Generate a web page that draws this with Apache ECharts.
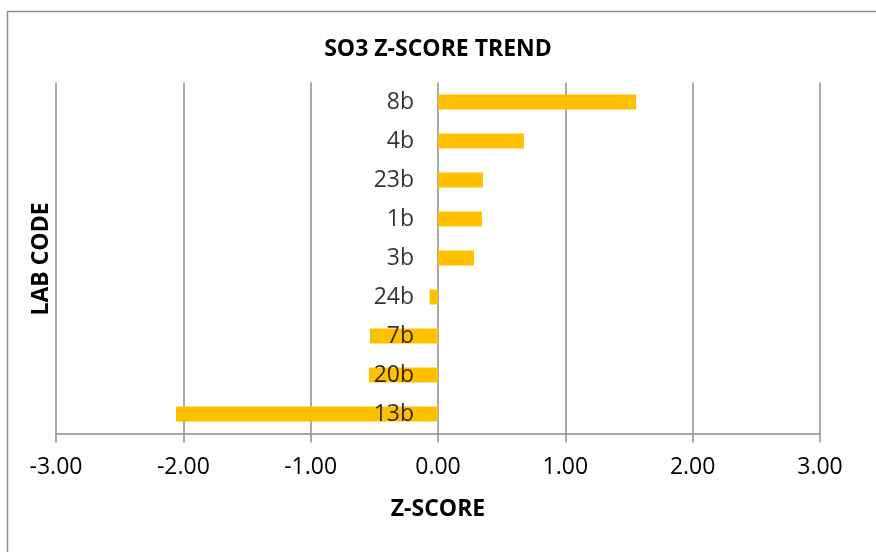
<!DOCTYPE html>
<html><head><meta charset="utf-8">
<script src="https://cdn.jsdelivr.net/npm/echarts@6/dist/echarts.min.js"></script>
<style>html,body{margin:0;padding:0;background:#fff}#c{width:876px;height:552px}</style>
</head><body><div id="c"></div>
<script>
const categories = ['8b','4b','23b','1b','3b','24b','7b','20b','13b'];
const zScores = [1.555, 0.675, 0.353, 0.346, 0.283, -0.066, -0.534, -0.542, -2.058];
const xTicks = [-3, -2, -1, 0, 1, 2, 3];

const chart = echarts.init(document.getElementById('c'));
const FONT = 'Open Sans';
chart.setOption({
  animation: false,
  backgroundColor: '#fff',
  title: {
    text: 'SO3 Z-SCORE TREND', left: 'center', top: 33,
    textStyle: {fontFamily: FONT, fontSize: 23, fontWeight: 'bold', color: '#000'}
  },
  graphic: [
    {type: 'rect', left: 5, top: 9, shape: {width: 1000, height: 700}, style: {fill: 'none', stroke: '#8c8c8c', lineWidth: 1.5}, z: -1},
    {type: 'text', x: 41, y: 259, rotation: Math.PI / 2,
     style: {text: 'LAB CODE', fontFamily: FONT, fontSize: 23, fontWeight: 'bold', fill: '#000', align: 'center', verticalAlign: 'middle'}}
  ],
  grid: {left: 56, right: 56, top: 82.5, bottom: 118.5, outerBoundsMode: 'none', containLabel: false},
  xAxis: {
    type: 'value', min: xTicks[0], max: xTicks[xTicks.length - 1], interval: 1,
    axisLine: {show: true, onZero: false, lineStyle: {color: '#8c8c8c', width: 1.5}},
    axisTick: {show: true, length: 9, lineStyle: {color: '#8c8c8c', width: 1.5}},
    splitLine: {show: true, lineStyle: {color: '#8c8c8c', width: 1.5}},
    axisLabel: {fontFamily: FONT, fontSize: 23, color: '#000', margin: 22,
      formatter: v => v.toFixed(2)},
    name: 'Z-SCORE', nameLocation: 'middle', nameGap: 64,
    nameTextStyle: {fontFamily: FONT, fontSize: 23, fontWeight: 'bold', color: '#000'}
  },
  yAxis: {
    type: 'category', data: categories, inverse: true,
    axisLine: {show: false},
    axisTick: {show: false},
    splitLine: {show: false},
    axisLabel: {show: false}
  },
  series: [{
    type: 'bar', data: zScores, barWidth: 15,
    itemStyle: {color: '#FFC000'}
  }, {
    type: 'scatter', z: 5, symbolSize: 0, silent: true,
    data: categories.map(c => ({name: c, value: [0, c]})),
    label: {show: true, position: 'left', distance: 24, formatter: '{b}',
      fontFamily: FONT, fontSize: 23, color: '#000'}
  }]
});
</script></body></html>
